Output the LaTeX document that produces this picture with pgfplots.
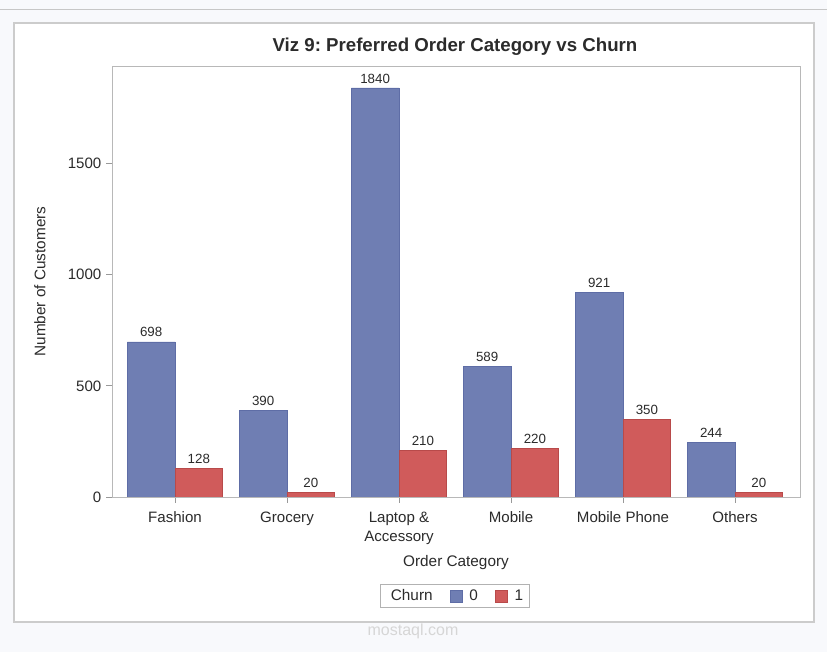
\documentclass[border=0pt]{standalone}
\usepackage{pgfplots}
\pgfplotsset{compat=1.18}
\usepackage{fontspec}
\setmainfont{Liberation Sans}
\frenchspacing
\definecolor{cblue}{HTML}{6F7EB3}
\definecolor{cblueE}{HTML}{5E6DA6}
\definecolor{cred}{HTML}{D05B5B}
\definecolor{credE}{HTML}{B84A4A}
\definecolor{bgout}{HTML}{F8F9FC}
\definecolor{txt}{HTML}{2B2B2B}
\begin{document}
\begin{tikzpicture}
\useasboundingbox (0,0) rectangle (620.25pt,489pt);
\fill[bgout] (0,0) rectangle (620.25pt,489pt);
\draw[black!22, line width=0.9pt] (0,{(652-9.5)*0.75pt}) -- (620.25pt,{(652-9.5)*0.75pt});
\filldraw[fill=white, draw=black!20, line width=1.2pt] ({14*0.75pt},{(652-622)*0.75pt}) rectangle ({814*0.75pt},{(652-23)*0.75pt});
\node[text=black!16, font=\fontsize{12}{14}\selectfont] at ({413*0.75pt},{(652-631)*0.75pt}) {mostaql.com};
\node[font=\fontsize{14}{16}\selectfont\bfseries, text=txt] at ({455*0.75pt},{(652-47)*0.75pt}) {Viz 9: Preferred Order Category vs Churn};
\begin{axis}[
  at={(84pt,116.25pt)}, anchor=south west,
  scale only axis, width=516pt, height=323.25pt,
  ybar, bar width=0.426,
  xmin=-0.5625, xmax=5.58, ymin=0, ymax=1939,
  xtick={0,1,2,3,4,5},
  xticklabels={Fashion,Grocery,{Laptop \&\\Accessory},Mobile,Mobile Phone,Others},
  xticklabel style={align=center, text=txt, font=\fontsize{11.3}{14.2}\selectfont, yshift=-3pt},
  ytick={0,500,1000,1500},
  yticklabel style={text=txt, font=\fontsize{11.3}{14}\selectfont},
  /pgf/number format/assume math mode=true,
  /pgf/number format/1000 sep={},
  scaled y ticks=false,
  xtick pos=bottom, ytick pos=left,
  tick align=outside, major tick length=4.5pt,
  every tick/.style={black!40, line width=0.6pt},
  axis line style={black!28, line width=0.7pt},
  xlabel={Order Category}, ylabel={Number of Customers},
  label style={text=txt, font=\fontsize{11.5}{14}\selectfont},
  xlabel style={at={(axis description cs:0.5,0)}, anchor=center, yshift={-(563-497)*0.75pt}},
  ylabel style={at={(axis description cs:0,0.5)}, anchor=center, xshift={0pt}, yshift={(112-40)*0.75pt}},
  nodes near coords,
  every node near coord/.append style={font=\fontsize{10}{12}\selectfont, text=txt, /pgf/number format/assume math mode=true},
  legend columns=3,
  legend style={at={(0.4985,-0.2297)}, anchor=center, draw=black!30, line width=0.6pt,
    font=\fontsize{11.5}{14}\selectfont, text=txt,
    /tikz/every odd column/.append style={column sep=3pt},
    /tikz/every even column/.append style={column sep=11pt},
    inner ysep=1.5pt, inner xsep=3pt},
]
\addlegendimage{empty legend}
\addlegendentry{Churn\hspace{6pt}}
\addplot[fill=cblue, draw=cblueE, line width=0.5pt, bar shift=-0.213,
  legend image code/.code={\draw[fill=cblue,draw=cblueE] (0pt,-4.5pt) rectangle (9pt,4.5pt);}]
  coordinates {(0,698) (1,390) (2,1840) (3,589) (4,921) (5,244)};
\addlegendentry{0}
\addplot[fill=cred, draw=credE, line width=0.5pt, bar shift=0.213,
  legend image code/.code={\draw[fill=cred,draw=credE] (0pt,-4.5pt) rectangle (9pt,4.5pt);}]
  coordinates {(0,128) (1,20) (2,210) (3,220) (4,350) (5,20)};
\addlegendentry{1}
\end{axis}
\end{tikzpicture}
\end{document}
